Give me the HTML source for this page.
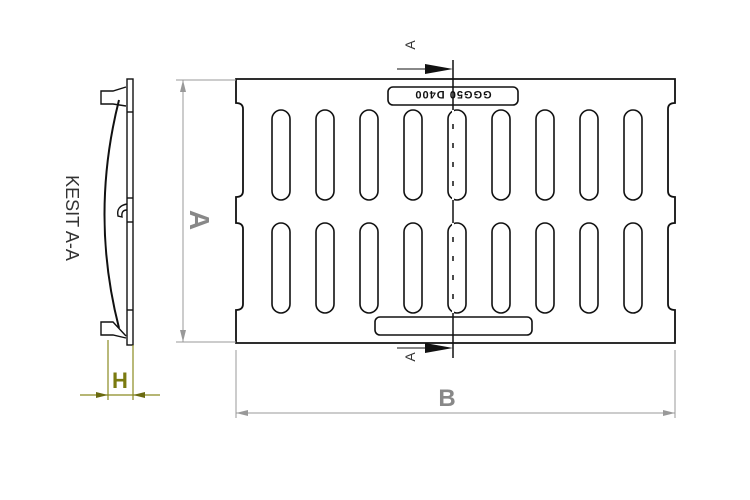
<!DOCTYPE html>
<html><head><style>body{margin:0;background:#fff}svg{display:block}</style></head><body>
<svg width="750" height="500" viewBox="0 0 750 500" xmlns="http://www.w3.org/2000/svg" font-family="Liberation Sans, sans-serif">
<rect width="750" height="500" fill="#fff"/>
<path d="M236 79 H675 V103 q-7 0 -7 6 V191 q0 6 7 6 V223 q-7 0 -7 6 V304 q0 6 7 6 V343 H236 V310 q7 0 7 -6 V229 q0 -6 -7 -6 V197 q7 0 7 -6 V109 q0 -6 -7 -6 Z" fill="none" stroke="#111" stroke-width="1.8"/>
<g fill="none" stroke="#111" stroke-width="1.6">
<rect x="272" y="110" width="18" height="90" rx="9"/><rect x="316" y="110" width="18" height="90" rx="9"/><rect x="360" y="110" width="18" height="90" rx="9"/><rect x="404" y="110" width="18" height="90" rx="9"/><rect x="448" y="110" width="18" height="90" rx="9"/><rect x="492" y="110" width="18" height="90" rx="9"/><rect x="536" y="110" width="18" height="90" rx="9"/><rect x="580" y="110" width="18" height="90" rx="9"/><rect x="624" y="110" width="18" height="90" rx="9"/>
<rect x="272" y="223" width="18" height="90" rx="9"/><rect x="316" y="223" width="18" height="90" rx="9"/><rect x="360" y="223" width="18" height="90" rx="9"/><rect x="404" y="223" width="18" height="90" rx="9"/><rect x="448" y="223" width="18" height="90" rx="9"/><rect x="492" y="223" width="18" height="90" rx="9"/><rect x="536" y="223" width="18" height="90" rx="9"/><rect x="580" y="223" width="18" height="90" rx="9"/><rect x="624" y="223" width="18" height="90" rx="9"/>
<rect x="388" y="87" width="130" height="18" rx="5"/>
<rect x="375" y="317" width="157" height="18" rx="5"/>
</g>
<text x="453" y="101" font-size="11" font-weight="bold" text-anchor="middle" fill="#111" transform="rotate(180 453 96)" letter-spacing="1">GGG50 D400</text>
<line x1="453" y1="60" x2="453" y2="358" stroke="#111" stroke-width="1.5"/>
<line x1="453" y1="110" x2="453" y2="200" stroke="#fff" stroke-width="2" stroke-dasharray="14 5"/>
<line x1="453" y1="223" x2="453" y2="313" stroke="#fff" stroke-width="2" stroke-dasharray="14 5"/>
<line x1="397" y1="69" x2="430" y2="69" stroke="#111" stroke-width="1"/>
<polygon points="425,64 453,69 425,74" fill="#111"/>
<line x1="397" y1="348" x2="430" y2="348" stroke="#111" stroke-width="1"/>
<polygon points="425,343 453,348 425,353" fill="#111"/>
<text x="410" y="50" font-size="14" fill="#333" text-anchor="middle" transform="rotate(-90 410 45)">A</text>
<text x="410" y="362" font-size="14" fill="#333" text-anchor="middle" transform="rotate(-90 410 357)">A</text>
<g stroke="#999" stroke-width="1">
<line x1="176" y1="80" x2="236" y2="80"/><line x1="176" y1="342" x2="236" y2="342"/>
<line x1="183" y1="80" x2="183" y2="342"/>
<line x1="236" y1="350" x2="236" y2="418"/><line x1="675" y1="350" x2="675" y2="418"/>
<line x1="236" y1="413" x2="675" y2="413"/>
</g>
<polygon points="180,92 183,80 186,92" fill="#999"/><polygon points="180,330 183,342 186,330" fill="#999"/>
<polygon points="248,410 236,413 248,416" fill="#999"/><polygon points="663,410 675,413 663,416" fill="#999"/>
<text x="200" y="220" font-size="28" font-weight="bold" fill="#888" text-anchor="middle" transform="rotate(90 200 220)" dy="10">A</text>
<text x="447" y="406" font-size="24" font-weight="bold" fill="#888" text-anchor="middle">B</text>
<g fill="none" stroke="#111" stroke-width="1.4">
<rect x="127" y="79" width="6" height="266"/>
<path d="M119 100 Q90 215 119 328" stroke-width="2"/>
<path d="M126 87 L113 91 L101 91 L101 104 L113 104 L126 106"/>
<path d="M126 336 L113 322 L101 322 L101 335 L113 335 L126 338"/>
<path d="M127 204 Q116 206 118 216 L122 217 Q121 210 127 210"/>
<line x1="127" y1="198" x2="133" y2="198"/><line x1="127" y1="222" x2="133" y2="222"/>
<line x1="127" y1="112" x2="133" y2="112"/><line x1="127" y1="310" x2="133" y2="310"/>
</g>
<text x="72" y="218" font-size="18" fill="#333" text-anchor="middle" transform="rotate(90 72 218)" dy="6">KESIT A-A</text>
<g stroke="#8a8a20" stroke-width="1.2">
<line x1="108" y1="340" x2="108" y2="400"/><line x1="133" y1="345" x2="133" y2="400"/>
<line x1="80" y1="395" x2="160" y2="395"/>
</g>
<polygon points="96,392 108,395 96,398" fill="#6a6a10"/><polygon points="145,392 133,395 145,398" fill="#6a6a10"/>
<text x="120" y="388" font-size="22" font-weight="bold" fill="#7a7a10" text-anchor="middle">H</text>
</svg>
</body></html>
